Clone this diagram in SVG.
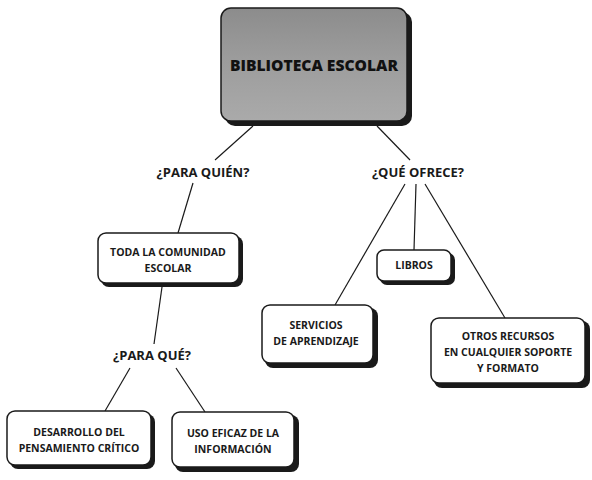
<svg xmlns="http://www.w3.org/2000/svg" width="592" height="480" viewBox="0 0 592 480">
<defs>
<linearGradient id="topg" x1="0" y1="0" x2="0" y2="1">
<stop offset="0" stop-color="#8c8c8c"/>
<stop offset="0.45" stop-color="#9c9c9c"/>
<stop offset="1" stop-color="#aaaaaa"/>
</linearGradient>
</defs>
<style>
.shadow{fill:#1a1a1a}
.box{fill:#ffffff;stroke:#1a1a1a;stroke-width:1.5}
.t{font-family:"Open Sans","Liberation Sans",sans-serif;font-weight:bold;font-size:10.5px;fill:#1a1a1a;text-anchor:middle}
.q{font-family:"Open Sans","Liberation Sans",sans-serif;font-weight:bold;font-size:13px;fill:#1a1a1a;text-anchor:middle}
.c{stroke:#1a1a1a;stroke-width:1.2;fill:none}
</style>
<rect width="592" height="480" fill="#ffffff"/>
<g id="connectors">
<line class="c" x1="253" y1="126" x2="215" y2="160"/>
<line class="c" x1="377" y1="126" x2="410" y2="160"/>
<line class="c" x1="193" y1="183" x2="178" y2="233"/>
<line class="c" x1="162" y1="287" x2="154" y2="344"/>
<line class="c" x1="130" y1="368" x2="105" y2="411"/>
<line class="c" x1="176" y1="368" x2="205" y2="412"/>
<line class="c" x1="405" y1="184" x2="335" y2="305"/>
<line class="c" x1="416" y1="184" x2="414" y2="250"/>
<line class="c" x1="425" y1="184" x2="505" y2="318"/>
</g>
<g id="n-biblioteca">
<rect x="225" y="12" width="187" height="114" rx="10" class="shadow"/>
<rect x="221" y="8" width="186" height="113" rx="10" fill="url(#topg)" stroke="#1a1a1a" stroke-width="1.5"/>
<text x="314" y="71" font-family="'Open Sans','Liberation Sans',sans-serif" font-weight="800" font-size="15" fill="#111" text-anchor="middle" textLength="168" lengthAdjust="spacingAndGlyphs">BIBLIOTECA ESCOLAR</text>
</g>
<g id="n-paraquien">
<text class="q" x="203" y="177">¿PARA QUIÉN?</text>
</g>
<g id="n-queofrece">
<text class="q" x="418" y="177">¿QUÉ OFRECE?</text>
</g>
<g id="n-toda">
<rect x="101" y="236" width="142" height="51" rx="8" class="shadow"/>
<rect x="98" y="233" width="141" height="50" rx="8" class="box"/>
<text class="t" x="168" y="256">TODA LA COMUNIDAD</text>
<text class="t" x="168" y="272">ESCOLAR</text>
</g>
<g id="n-paraque">
<text class="q" x="152" y="360">¿PARA QUÉ?</text>
</g>
<g id="n-desarrollo">
<rect x="10" y="414" width="145" height="55" rx="8" class="shadow"/>
<rect x="7" y="411" width="144" height="54" rx="8" class="box"/>
<text class="t" x="79" y="436">DESARROLLO DEL</text>
<text class="t" x="79" y="452">PENSAMIENTO CRÍTICO</text>
</g>
<g id="n-uso">
<rect x="175" y="415" width="124" height="57" rx="8" class="shadow"/>
<rect x="172" y="412" width="122" height="55" rx="8" class="box"/>
<text class="t" x="233" y="437">USO EFICAZ DE LA</text>
<text class="t" x="233" y="453">INFORMACIÓN</text>
</g>
<g id="n-libros">
<rect x="380" y="253" width="75" height="32" rx="7" class="shadow"/>
<rect x="377" y="250" width="74" height="31" rx="7" class="box"/>
<text class="t" x="414" y="269">LIBROS</text>
</g>
<g id="n-servicios">
<rect x="265" y="308" width="113" height="60" rx="8" class="shadow"/>
<rect x="262" y="305" width="111" height="58" rx="8" class="box"/>
<text class="t" x="316" y="329">SERVICIOS</text>
<text class="t" x="316" y="345">DE APRENDIZAJE</text>
</g>
<g id="n-otros">
<rect x="434" y="321" width="156" height="67" rx="8" class="shadow"/>
<rect x="431" y="318" width="154" height="65" rx="8" class="box"/>
<text class="t" x="508" y="340">OTROS RECURSOS</text>
<text class="t" x="508" y="356">EN CUALQUIER SOPORTE</text>
<text class="t" x="508" y="372">Y FORMATO</text>
</g>
</svg>
